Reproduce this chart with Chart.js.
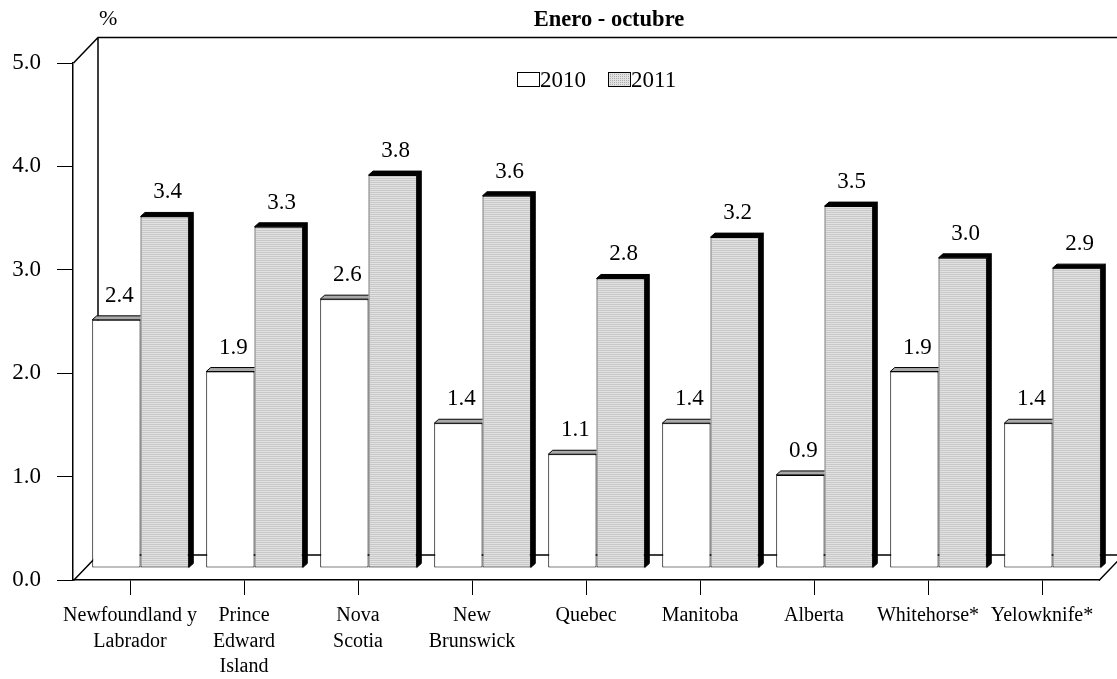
<!DOCTYPE html>
<html>
<head>
<meta charset="utf-8">
<script src="https://cdn.jsdelivr.net/npm/chart.js@4.4.1/dist/chart.umd.min.js"></script>
<style>
  html, body { margin: 0; padding: 0; background: #ffffff; }
  #wrap { width: 1117px; height: 679px; }
</style>
</head>
<body>
<div id="wrap"><canvas id="c" width="1117" height="679"></canvas></div>
<script>
// Categories and series
const categories = [
  ["Newfoundland y", "Labrador"],
  ["Prince", "Edward", "Island"],
  ["Nova", "Scotia"],
  ["New", "Brunswick"],
  "Quebec",
  "Manitoba",
  "Alberta",
  "Whitehorse*",
  "Yelowknife*"
];
const seriesNames = ["2010", "2011"];
const values2010 = [2.4, 1.9, 2.6, 1.4, 1.1, 1.4, 0.9, 1.9, 1.4];
const values2011 = [3.4, 3.3, 3.8, 3.6, 2.8, 3.2, 3.5, 3.0, 2.9];
const yTicks = [0, 1, 2, 3, 4, 5];
const titleText = "Enero - octubre";
const unitText = "%";

const FONT = "'Liberation Serif', 'Times New Roman', serif";

// Oblique depth of the back wall, and of the plane the bars stand in
const WALL = { dx: 24.5, dy: -25.5 };
const BAR_PLANE = { dx: 10.5, dy: -12 };
const BAR_DEPTH = { dx: 4.5, dy: -4 };

// Fine dotted fill for the 2011 bars
function dotPattern() {
  const p = document.createElement('canvas');
  p.width = 2; p.height = 2;
  const g = p.getContext('2d');
  g.fillStyle = '#e2e2e2';
  g.fillRect(0, 0, 2, 2);
  g.fillStyle = '#aeaeae';
  g.fillRect(0, 0, 1, 1);
  return g.createPattern(p, 'repeat');
}
const ctx0 = document.getElementById('c').getContext('2d');
const fill2011 = dotPattern();

// Back wall and floor of the 3D frame, bar depth faces and value labels
const framePlugin = {
  id: 'frame',
  beforeDatasetsDraw(chart) {
    const { ctx, chartArea: a } = chart;
    const L = Math.round(a.left) + 0.5, R = a.right, T = Math.round(a.top), B = Math.round(a.bottom) + 0.5;
    ctx.save();
    ctx.strokeStyle = '#000';
    ctx.lineWidth = 1.5;
    ctx.beginPath();
    ctx.moveTo(L, T); ctx.lineTo(L + WALL.dx, T + WALL.dy);
    ctx.lineTo(chart.width + 40, T + WALL.dy);
    ctx.moveTo(L + WALL.dx, T + WALL.dy); ctx.lineTo(L + WALL.dx, B + WALL.dy);
    ctx.lineTo(chart.width + 40, B + WALL.dy);
    ctx.moveTo(L, B); ctx.lineTo(L + WALL.dx, B + WALL.dy);
    ctx.moveTo(R, B); ctx.lineTo(R + WALL.dx, B + WALL.dy);
    ctx.stroke();
    ctx.restore();
    // bars stand part-way back in depth
    ctx.save();
    ctx.translate(BAR_PLANE.dx, BAR_PLANE.dy);
  },
  afterDatasetDraw(chart, args) {
    const { ctx } = chart;
    const idx = args.index;
    const d = BAR_DEPTH;
    args.meta.data.forEach((el) => {
      const p = el.getProps(['x', 'y', 'base', 'width'], true);
      const l = p.x - p.width / 2, r = p.x + p.width / 2, t = p.y, b = p.base;
      ctx.save();
      ctx.lineWidth = 1;
      ctx.strokeStyle = '#000';
      if (idx === 0) {
        // 2010 bar sits in front of the 2011 bar's left side: keep its top face
        // within its own width
        ctx.beginPath();
        ctx.rect(l - 2, t - 20, r - l + 2, 40);
        ctx.clip();
        ctx.fillStyle = '#a9a9a9';
      } else {
        ctx.fillStyle = '#000';
      }
      ctx.beginPath();
      ctx.moveTo(l, t); ctx.lineTo(l + d.dx, t + d.dy);
      ctx.lineTo(r + d.dx, t + d.dy); ctx.lineTo(r, t); ctx.closePath();
      ctx.fill(); ctx.stroke();
      if (idx === 1) {
        ctx.beginPath();
        ctx.moveTo(r, t); ctx.lineTo(r + d.dx, t + d.dy);
        ctx.lineTo(r + d.dx, b + d.dy); ctx.lineTo(r, b); ctx.closePath();
        ctx.fill(); ctx.stroke();
      }
      ctx.restore();
    });
  },
  afterDatasetsDraw(chart) {
    const { ctx } = chart;
    ctx.save();
    ctx.fillStyle = '#000';
    ctx.font = '23px ' + FONT;
    ctx.textAlign = 'center';
    ctx.textBaseline = 'alphabetic';
    chart.data.datasets.forEach((ds, i) => {
      const meta = chart.getDatasetMeta(i);
      meta.data.forEach((el, j) => {
        const p = el.getProps(['x', 'y'], true);
        ctx.fillText(ds.data[j].toFixed(1), p.x + 3, p.y - 18);
      });
    });
    ctx.restore();
    ctx.restore();
  },
  afterDraw(chart) {
    const { ctx } = chart;
    ctx.save();
    ctx.fillStyle = '#000';
    ctx.textBaseline = 'alphabetic';
    ctx.font = 'bold 22.5px ' + FONT;
    ctx.textAlign = 'center';
    ctx.fillText(titleText, 609, 26);
    ctx.font = '22px ' + FONT;
    ctx.textAlign = 'left';
    ctx.fillText(unitText, 99, 25);
    // legend
    ctx.font = '23px ' + FONT;
    const items = [{ x: 517 }, { x: 608 }];
    chart.data.datasets.forEach((ds, i) => {
      const bx = items[i].x;
      ctx.fillStyle = ds.backgroundColor;
      ctx.fillRect(bx, 72, 22, 14);
      ctx.strokeStyle = '#000';
      ctx.lineWidth = 1;
      ctx.strokeRect(bx + 0.5, 72.5, 22, 14);
      ctx.fillStyle = '#000';
      ctx.fillText(ds.label, bx + 23, 87);
    });
    ctx.restore();
  }
};

new Chart(ctx0, {
  type: 'bar',
  data: {
    labels: categories,
    datasets: [
      {
        label: seriesNames[0],
        data: values2010,
        backgroundColor: '#ffffff',
        borderColor: '#000000',
        borderWidth: 1,
        borderSkipped: false
      },
      {
        label: seriesNames[1],
        data: values2011,
        backgroundColor: fill2011,
        borderColor: '#000000',
        borderWidth: 1,
        borderSkipped: false
      }
    ]
  },
  options: {
    responsive: false,
    animation: false,
    devicePixelRatio: 1,
    layout: { padding: { top: 63, right: 18, left: 0, bottom: 0 } },
    plugins: {
      legend: { display: false },
      title: { display: false },
      tooltip: { enabled: false }
    },
    datasets: {
      bar: { barPercentage: 1.0, categoryPercentage: 0.847 }
    },
    scales: {
      x: {
        offset: true,
        grid: {
          display: true,
          offset: false,
          drawOnChartArea: false,
          drawTicks: true,
          tickLength: 15,
          color: '#000'
        },
        border: { display: true, color: '#000', width: 1.5 },
        ticks: {
          autoSkip: false,
          maxRotation: 0,
          minRotation: 0,
          padding: 8,
          color: '#000',
          font: { family: FONT, size: 20, lineHeight: 1.28 }
        },
        afterFit(scale) { scale.height = 99; }
      },
      y: {
        min: 0,
        max: 5,
        afterBuildTicks(scale) { scale.ticks = yTicks.map(v => ({ value: v })); },
        grid: {
          display: true,
          drawOnChartArea: false,
          drawTicks: true,
          tickLength: 16,
          color: '#000'
        },
        border: { display: true, color: '#000', width: 1.5 },
        ticks: {
          padding: 16,
          color: '#000',
          font: { family: FONT, size: 23 },
          callback: (v) => Number(v).toFixed(1)
        },
        afterFit(scale) { scale.width = 73; }
      }
    }
  },
  plugins: [framePlugin]
});
</script>
</body>
</html>
